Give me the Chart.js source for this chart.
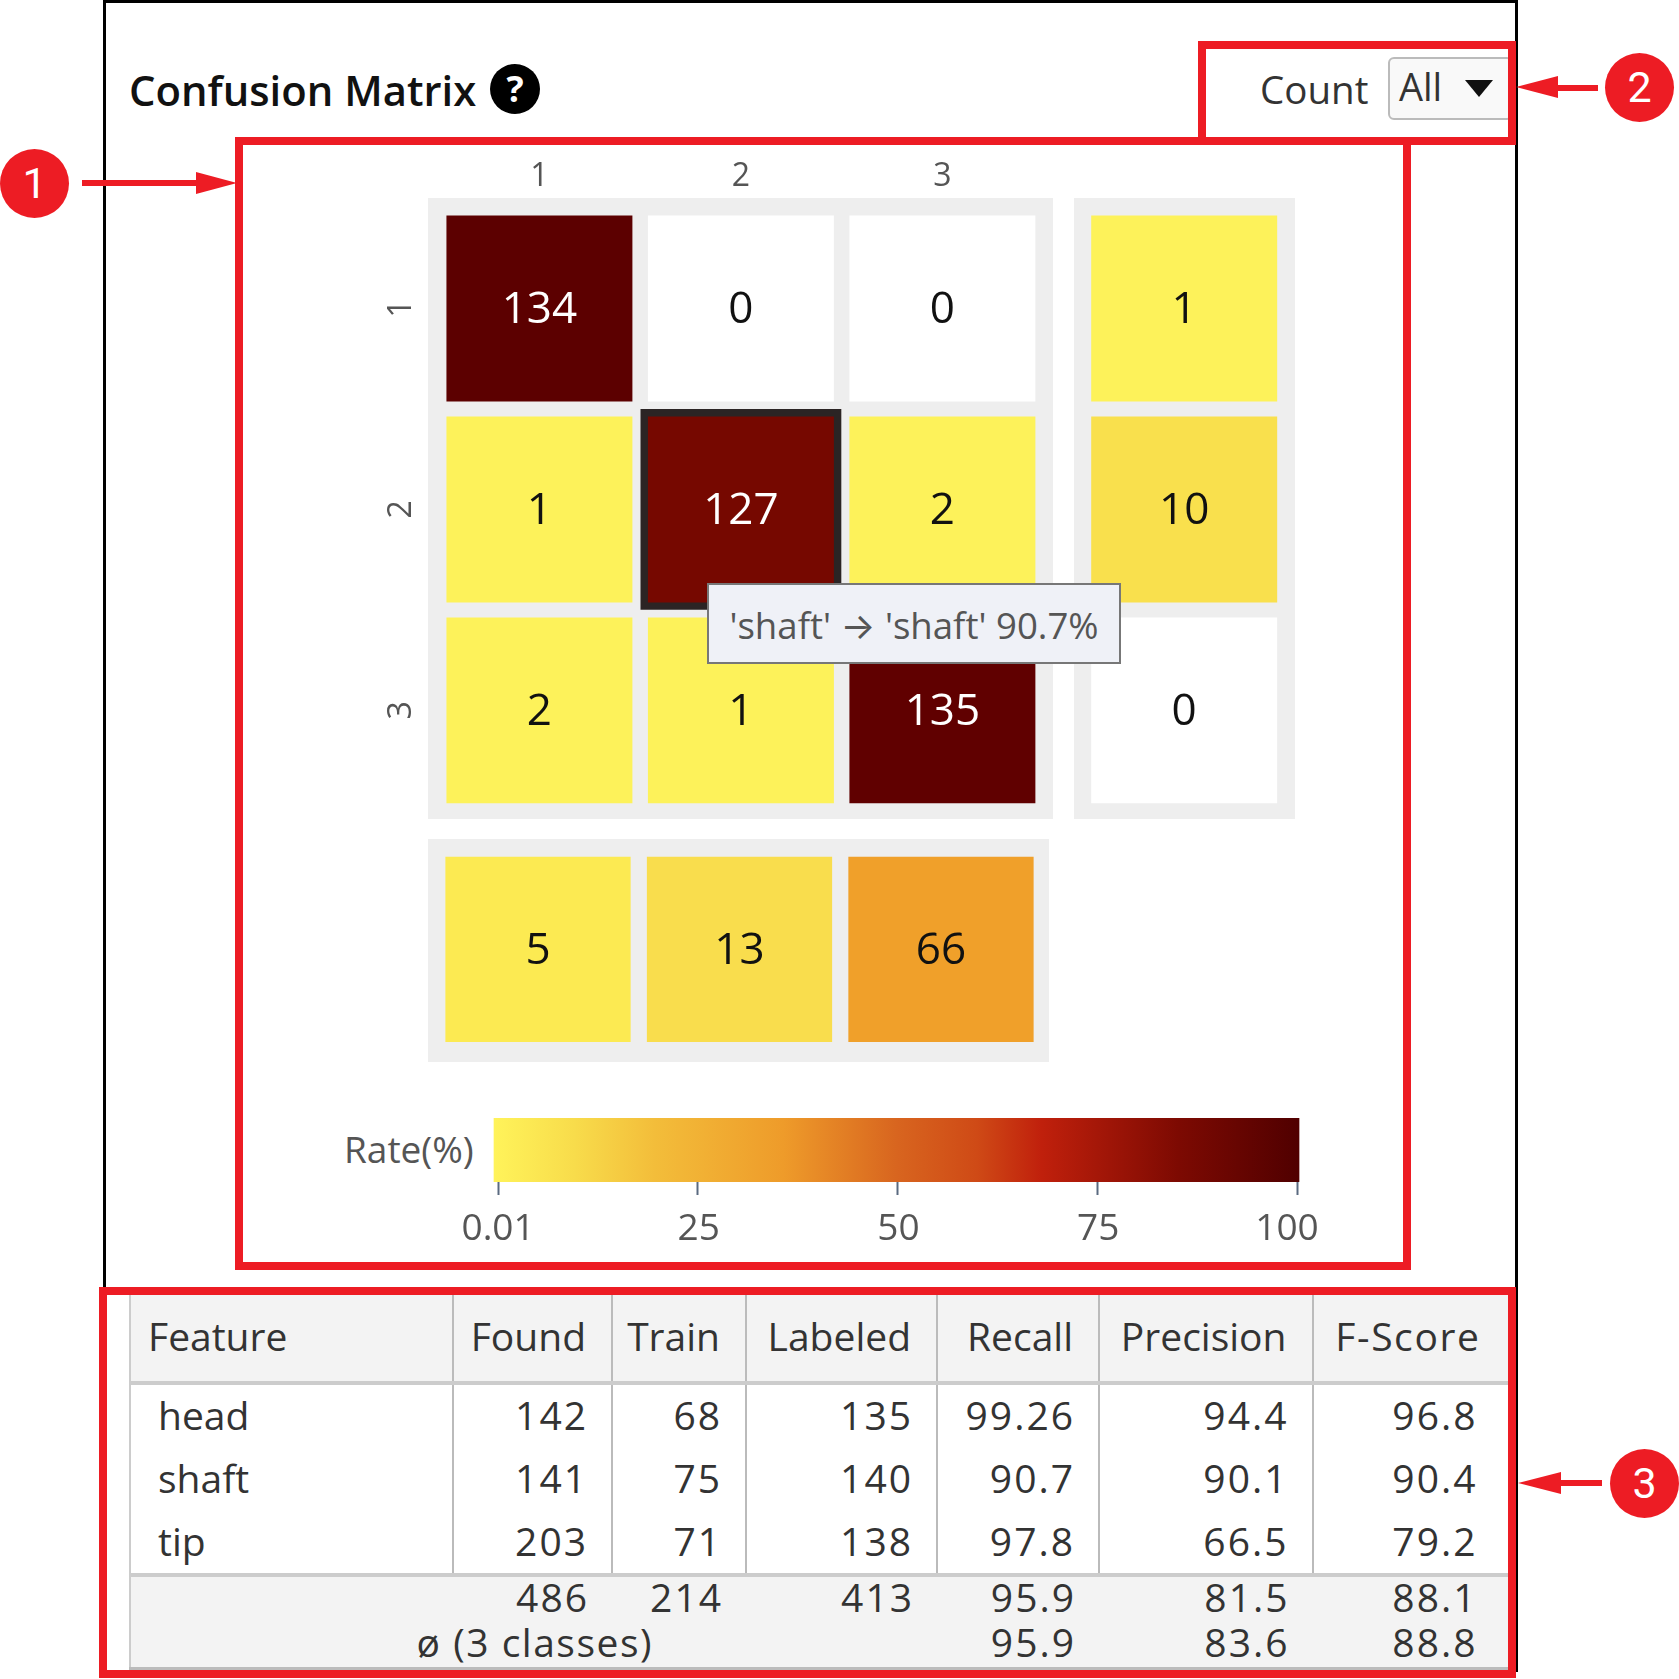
<!DOCTYPE html>
<html>
<head>
<meta charset="utf-8">
<title>Confusion Matrix</title>
<script src="https://cdn.jsdelivr.net/npm/chart.js@4"></script>
<style>
    html, body { margin: 0; padding: 0; background: #fff; }
    body { position: relative; width: 1679px; height: 1679px; overflow: hidden; font-family: "Open Sans", sans-serif; color: #333; }
    .abs { position: absolute; }
    .red { position: absolute; box-sizing: border-box; border: 8px solid #ed1c24; }
    .redfill { position: absolute; background: #ed1c24; }
    .badge { position: absolute; width: 69px; height: 69px; border-radius: 50%; background: #ed1c24; color: #fff; font: 400 43px/69px Roboto, sans-serif; text-align: center; }
    .head { position: absolute; width: 0; height: 0; border-style: solid; border-color: transparent; }
    .panel { position: absolute; background: #eeeeee; }
    canvas { position: absolute; }
    table { position: absolute; left: 129px; top: 1295px; width: 1378.5px; table-layout: fixed; border-collapse: collapse; font-size: 39px; color: #333; }
    th { box-sizing: border-box; font-weight: 400; background: #f3f3f3; height: 88px; padding: 0 25px 6px 0; text-align: right; border-left: 2px solid #bbb; border-bottom: 4px solid #ccc; }
    th:first-child { text-align: left; padding-left: 17px; border-left: 2px solid #ccc; }
    td { box-sizing: border-box; height: 64px; padding: 0 23px 4px 0; text-align: right; border-left: 2px solid #bbb; line-height: 1; letter-spacing: 2px; }
    tbody td:first-child { text-align: left; padding-left: 27px; border-left: 2px solid #ccc; letter-spacing: 0; }
    tfoot td { background: #f3f3f3; height: 47px; border-left: none; vertical-align: top; padding-top: 0; padding-bottom: 0; }
    tfoot tr:first-child td { border-top: 4px solid #ccc; height: 47px; }
    tfoot tr:last-child td { border-bottom: 3px solid #bbb; height: 46px; }
    tfoot td:first-child { border-left: 2px solid #ccc; }
    th:last-child { padding-right: 28px; letter-spacing: 1.6px; }
    td:last-child { padding-right: 31px; }
</style>
</head>
<body>

<!-- page frame -->
<div class="abs" style="left:103px;top:0;width:1415px;height:3px;background:#000"></div>
<div class="abs" style="left:103px;top:0;width:3px;height:1290px;background:#000"></div>
<div class="abs" style="left:1515px;top:0;width:3px;height:1672px;background:#000"></div>

<!-- header -->
<div class="abs" style="left:129px;top:62px;font-size:41.8px;font-weight:600;color:#111;line-height:56px;white-space:nowrap">Confusion Matrix</div>
<div class="abs" style="left:490px;top:64px;width:50px;height:50px;border-radius:50%;background:#000;color:#fff;font:700 36px/50px 'Open Sans',sans-serif;text-align:center">?</div>
<div class="abs" style="left:1260px;top:64px;font-size:38.5px;line-height:50px;color:#333">Count</div>
<div class="abs" style="left:1388px;top:57px;width:125px;height:63px;box-sizing:border-box;border:2px solid #bbb;border-radius:6px;background:#f9f9f9"></div>
<div class="abs" style="left:1399px;top:61px;font-size:38px;line-height:50px;color:#333">All</div>
<div class="head" style="left:1465px;top:80px;border-width:17px 14px 0 14px;border-top-color:#111"></div>

<!-- gray panels behind the matrix -->
<div class="panel" style="left:428px;top:198px;width:625px;height:621px"></div>
<div class="panel" style="left:1074px;top:198px;width:221px;height:621px"></div>
<div class="panel" style="left:428px;top:839px;width:621px;height:223px"></div>

<canvas id="matrix" width="1052" height="917" style="left:243px;top:145px"></canvas>

<div class="abs" style="left:707px;top:583px;width:414px;height:81px;box-sizing:border-box;border:2px solid #777;background:#eff1f7;color:#555;font-size:36.6px;line-height:81px;text-align:center;white-space:nowrap">'shaft' <span style="font-family:Inter">→</span> 'shaft' 90.7%</div>

<div class="abs" style="left:344px;top:1124px;font-size:37px;line-height:50px;color:#555">Rate(%)</div>
<canvas id="colorbar" width="1000" height="160" style="left:340px;top:1100px"></canvas>

<table id="stats"></table>

<!-- annotation boxes -->
<div class="red" style="left:235px;top:137px;width:1176px;height:1133px"></div>
<div class="red" style="left:1198px;top:41px;width:318px;height:104px"></div>
<div class="red" style="left:99px;top:1287px;width:1417px;height:391px"></div>

<div class="badge" style="left:0;top:149px">1</div>
<div class="redfill" style="left:82px;top:180px;width:115px;height:6px"></div>
<div class="head" style="left:196px;top:172px;border-width:11.5px 0 11.5px 41px;border-left-color:#ed1c24"></div>

<div class="badge" style="left:1605px;top:53px">2</div>
<div class="redfill" style="left:1556px;top:85px;width:42px;height:6px"></div>
<div class="head" style="left:1516px;top:76px;border-width:11.5px 42px 11.5px 0;border-right-color:#ed1c24"></div>

<div class="badge" style="left:1610px;top:1449px">3</div>
<div class="redfill" style="left:1560px;top:1480px;width:42px;height:6px"></div>
<div class="head" style="left:1518px;top:1472px;border-width:11.5px 43px 11.5px 0;border-right-color:#ed1c24"></div>

<script>
const classLabels = [1, 2, 3];
const matrixCounts = [
    [134, 0, 0],
    [1, 127, 2],
    [2, 1, 135]
];
const rowTotals = [1, 10, 0];     // right column
const colTotals = [5, 13, 66];    // bottom row
const marginPos = 4.2;            // where the margin cells sit on the class axis

const matrixColors = [
    ['#5c0000', '#ffffff', '#ffffff'],
    ['#fdf25a', '#760800', '#fdf25a'],
    ['#fdf25a', '#fdf25a', '#600000']
];
const rowTotalColors = ['#fdf25a', '#f9e04d', '#ffffff'];
const colTotalColors = ['#fcea52', '#f9dd4d', '#f0a02a'];

const selectedCell = {x: 2, y: 2};

const rateTicks = [0.01, 25, 50, 75, 100];
const rateBar = [-0.5, 100.25];
const rateStops = [
    [0, '#fff35a'], [0.1, '#f8dc4b'], [0.2, '#f3bd3a'], [0.36, '#ee9b2a'],
    [0.5, '#d8651f'], [0.6, '#cf4a16'], [0.68, '#c0200c'], [0.85, '#7d0a02'], [1, '#500000']
];

const tableColumns = ['Feature', 'Found', 'Train', 'Labeled', 'Recall', 'Precision', 'F-Score'];
const features = ['head', 'shaft', 'tip'];
const found = [142, 141, 203];
const train = [68, 75, 71];
const labeled = [135, 140, 138];
const recall = ['99.26', '90.7', '97.8'];
const precision = ['94.4', '90.1', '66.5'];
const fscore = ['96.8', '90.4', '79.2'];
const totalsRow = ['486', '214', '413', '95.9', '81.5', '88.1'];
const averageLabel = 'ø (3 classes)';
const averageRow = ['95.9', '83.6', '88.8'];

// matrix cells
let cells = [];
let cellColors = [];
let cellTexts = [];
matrixCounts.forEach((row, r) => {
    row.forEach((count, c) => {
        cells.push({x: classLabels[c], y: classLabels[r]});
        cellColors.push(matrixColors[r][c]);
        cellTexts.push(count);
    });
});

const valueLabels = {
    id: 'valueLabels',
    afterDatasetsDraw(chart) {
        const ctx = chart.ctx;
        ctx.save();
        ctx.font = '44px "Open Sans"';
        ctx.textAlign = 'center';
        ctx.textBaseline = 'middle';
        chart.data.datasets.forEach((ds, i) => {
            if (!ds.texts) return;
            chart.getDatasetMeta(i).data.forEach((pt, j) => {
                ctx.fillStyle = ds.pointBackgroundColor[j].match(/#[567]/) ? '#fff' : '#111';
                ctx.fillText(ds.texts[j], pt.x, pt.y + 2);
            });
        });
        ctx.restore();
    }
};

new Chart(document.getElementById('matrix'), {
    type: 'scatter',
    plugins: [valueLabels],
    data: {
        datasets: [
            {
                data: cells, texts: cellTexts, order: 1, pointStyle: 'rect',
                pointRadius: 131.5, pointBorderWidth: 0, pointBackgroundColor: cellColors
            },
            {
                data: rowTotals.map((v, i) => ({x: marginPos, y: classLabels[i]})), texts: rowTotals, order: 1, pointStyle: 'rect',
                pointRadius: 131.5, pointBorderWidth: 0, pointBackgroundColor: rowTotalColors
            },
            {
                data: colTotals.map((v, i) => ({x: classLabels[i] - 0.007, y: marginPos - 0.01})), texts: colTotals, order: 1, pointStyle: 'rect',
                pointRadius: 131, pointBorderWidth: 0, pointBackgroundColor: colTotalColors
            },
            {
                data: [selectedCell], order: 2, pointStyle: 'rect',
                pointRadius: 142, pointBorderWidth: 0, pointBackgroundColor: ['#2b2424']
            }
        ]
    },
    options: {
        responsive: false,
        animation: false,
        events: [],
        layout: {padding: 0, autoPadding: false},
        plugins: {legend: {display: false}, tooltip: {enabled: false}},
        scales: {
            x: {
                type: 'linear', position: 'top', min: 0.45, max: 4.75,
                afterBuildTicks: axis => { axis.ticks = classLabels.map(v => ({value: v})); },
                afterFit: axis => { axis.height = 53; axis.paddingLeft = 0; axis.paddingRight = 0; },
                grid: {display: false},
                border: {display: false},
                ticks: {color: '#555', font: {family: 'Open Sans', size: 32}, padding: -6}
            },
            y: {
                type: 'linear', reverse: true, min: 0.45, max: 4.75,
                afterBuildTicks: axis => { axis.ticks = classLabels.map(v => ({value: v})); },
                afterFit: axis => { axis.width = 185.6; axis.paddingTop = 0; axis.paddingBottom = 0; },
                grid: {display: false},
                border: {display: false},
                ticks: {color: '#555', font: {family: 'Open Sans', size: 32}, minRotation: 90, maxRotation: 90, crossAlign: 'center', padding: 10}
            }
        }
    }
});

// tick labels of the colour bar, the last one sits a bit to the left like in the picture
const rateTickLabels = {
    id: 'rateTickLabels',
    afterDraw(chart) {
        const ctx = chart.ctx;
        const scale = chart.scales.x;
        ctx.save();
        ctx.font = '37px "Open Sans"';
        ctx.fillStyle = '#555';
        ctx.textAlign = 'center';
        ctx.textBaseline = 'middle';
        rateTicks.forEach((v, i) => {
            let shift = i === rateTicks.length - 1 ? -10 : (i === 0 ? 0 : 1);
            ctx.fillText(String(v), scale.getPixelForValue(v) + shift, chart.chartArea.bottom + 47);
        });
        ctx.restore();
    }
};

new Chart(document.getElementById('colorbar'), {
    type: 'bar',
    plugins: [rateTickLabels],
    data: {
        labels: ['Rate(%)'],
        datasets: [{
            data: [rateBar],
            barPercentage: 1,
            categoryPercentage: 1,
            backgroundColor: context => {
                const chart = context.chart;
                if (!chart.chartArea) return '#c0200c';
                const xs = chart.scales.x;
                const grad = chart.ctx.createLinearGradient(xs.getPixelForValue(rateBar[0]), 0, xs.getPixelForValue(rateBar[1]), 0);
                rateStops.forEach(s => grad.addColorStop(s[0], s[1]));
                return grad;
            }
        }]
    },
    options: {
        indexAxis: 'y',
        responsive: false,
        animation: false,
        events: [],
        layout: {padding: {left: 150, right: 35, top: 18, bottom: 0}},
        plugins: {legend: {display: false}, tooltip: {enabled: false}},
        scales: {
            y: {display: false},
            x: {
                type: 'linear', min: -1, max: 101,
                afterBuildTicks: axis => { axis.ticks = rateTicks.map(v => ({value: v})); },
                afterFit: axis => { axis.height = 78; },
                border: {display: false},
                grid: {drawOnChartArea: false, drawTicks: true, tickLength: 13, tickWidth: 2, tickColor: '#5a6a80'},
                ticks: {display: false}
            }
        }
    }
});

// stats table
const colWidths = [323, 159, 134, 191, 162, 213.5, 196];
let html = '<colgroup>' + colWidths.map(w => '<col style="width:' + w + 'px">').join('') + '</colgroup>';
html += '<thead><tr>' + tableColumns.map(c => '<th>' + c + '</th>').join('') + '</tr></thead><tbody>';
features.forEach((f, i) => {
    html += '<tr>' + [f, found[i], train[i], labeled[i], recall[i], precision[i], fscore[i]].map(v => '<td>' + v + '</td>').join('') + '</tr>';
});
html += '</tbody><tfoot><tr><td></td>' + totalsRow.map(v => '<td>' + v + '</td>').join('') + '</tr>';
html += '<tr><td colspan="3" style="text-align:right;padding-right:93px;letter-spacing:1.5px">' + averageLabel + '</td><td></td>' + averageRow.map(v => '<td>' + v + '</td>').join('') + '</tr></tfoot>';
document.getElementById('stats').innerHTML = html;
</script>
</body>
</html>
